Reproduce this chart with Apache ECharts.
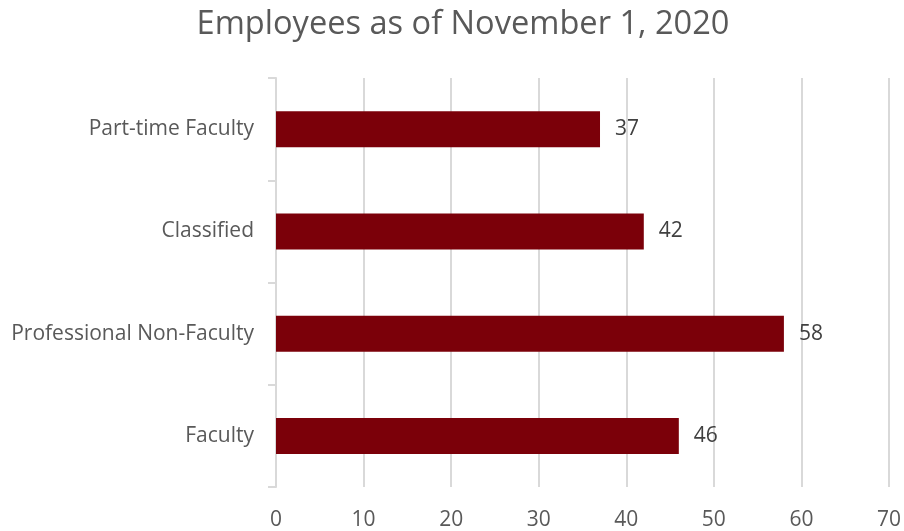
<!DOCTYPE html>
<html><head><meta charset="utf-8">
<script src="https://cdn.jsdelivr.net/npm/echarts@6/dist/echarts.min.js"></script>
<style>html,body{margin:0;padding:0;background:#fff}#c{width:904px;height:531px}</style>
</head><body><div id="c"></div>
<script>
const categories = ['Faculty', 'Professional Non-Faculty', 'Classified', 'Part-time Faculty'];
const values = [46, 58, 42, 37];
const xTicks = [0, 10, 20, 30, 40, 50, 60, 70];

const chart = echarts.init(document.getElementById('c'));
chart.setOption({
  animation: false,
  title: {
    text: 'Employees as of November 1, 2020',
    left: 458, textAlign: 'center', top: 3,
    textStyle: { fontFamily: 'Open Sans', fontSize: 32.6, fontWeight: 'normal', color: '#595959' }
  },
  grid: { left: 276, right: 14, top: 78, bottom: 43, containLabel: false },
  xAxis: {
    type: 'value', min: xTicks[0], max: xTicks[xTicks.length - 1], interval: 10,
    axisLine: { show: false }, axisTick: { show: false },
    splitLine: { lineStyle: { color: '#d9d9d9', width: 2 } },
    axisLabel: { margin: 23, fontFamily: 'Open Sans', fontSize: 21, color: '#595959' }
  },
  yAxis: {
    type: 'category', data: categories,
    axisLine: { show: true, lineStyle: { color: '#d9d9d9', width: 2 } },
    axisTick: { show: true, length: 8, lineStyle: { color: '#d9d9d9', width: 2 } },
    axisLabel: { margin: 22, fontFamily: 'Open Sans', fontSize: 21, color: '#595959' }
  },
  series: [{
    type: 'bar', data: values, barWidth: 36,
    itemStyle: { color: '#7b0009' },
    label: { show: true, position: 'right', distance: 15, fontFamily: 'Open Sans', fontSize: 21, color: '#404040' }
  }]
});
</script></body></html>
